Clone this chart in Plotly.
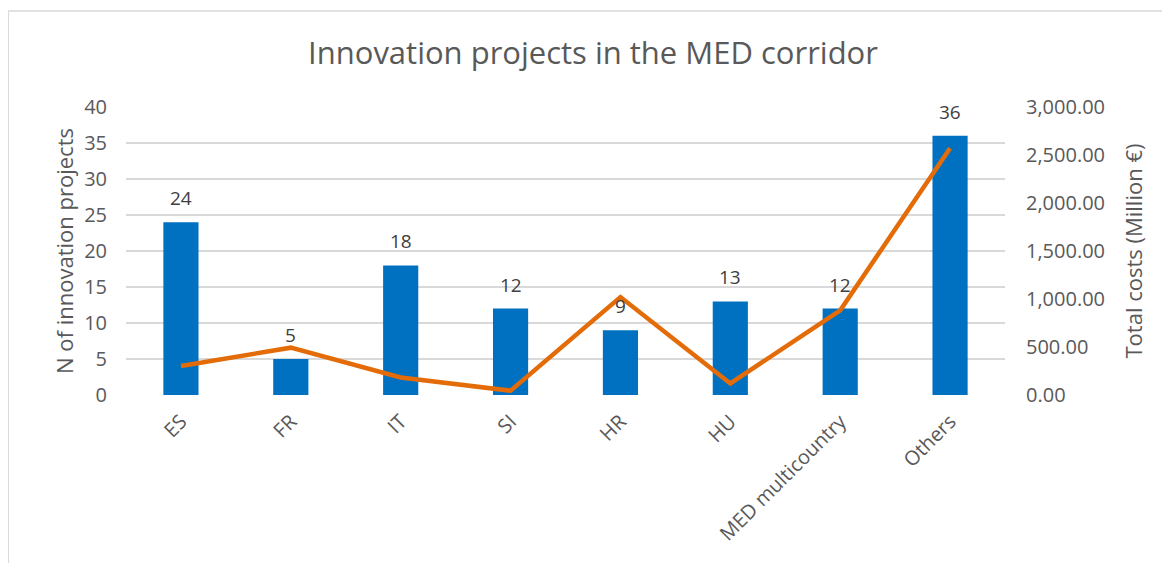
import plotly.graph_objects as go

categories = ["ES", "FR", "IT", "SI", "HR", "HU", "MED multicountry", "Others"]
n_projects = [24, 5, 18, 12, 9, 13, 12, 36]
total_costs = [302, 493, 182, 45, 1020, 120, 882, 2570]
left_ticks = [0, 5, 10, 15, 20, 25, 30, 35, 40]
right_ticks = [0, 500, 1000, 1500, 2000, 2500, 3000]
right_tick_labels = ["0.00", "500.00", "1,000.00", "1,500.00", "2,000.00", "2,500.00", "3,000.00"]

FONT = "Open Sans, sans-serif"
GREY = "#595959"

fig = go.Figure()
fig.add_trace(go.Bar(
    x=categories, y=n_projects, marker_color="#0070C0", marker_line_width=0,
    name="N of innovation projects", yaxis="y",
))
fig.add_trace(go.Scatter(
    x=categories, y=total_costs, mode="lines",
    line=dict(color="#E36C09", width=4.5), name="Total costs", yaxis="y2",
))

annotations = [
    dict(x=c, y=v, xref="x", yref="y", text=str(v), showarrow=False,
         yanchor="middle", yshift=24, font=dict(size=19, color="#404040", family=FONT))
    for c, v in zip(categories, n_projects)
]

fig.update_layout(
    width=1170, height=563,
    margin=dict(l=118, r=173, t=99, b=176),
    paper_bgcolor="white", plot_bgcolor="white",
    showlegend=False, bargap=0.68,
    title=dict(text="Innovation projects in the MED corridor", x=0.5, xref="container",
               y=1 - 45 / 563, yref="container", xanchor="center", yanchor="middle",
               font=dict(size=31, color=GREY, family=FONT)),
    xaxis=dict(tickangle=-45, tickfont=dict(size=20, color=GREY, family=FONT),
               showgrid=False, showline=False, ticks="", ticklabelstandoff=10),
    yaxis=dict(range=[0, 40], tickvals=left_ticks, showgrid=True, gridcolor="#D9D9D9",
               gridwidth=1.8, zeroline=False, tickfont=dict(size=20, color=GREY, family=FONT),
               title=dict(text="N of innovation projects", font=dict(size=22, color=GREY, family=FONT),
                          standoff=4), ticklabelstandoff=18),
    yaxis2=dict(range=[0, 3000], tickvals=right_ticks, ticktext=right_tick_labels,
                overlaying="y", side="right", showgrid=False, zeroline=False,
                tickfont=dict(size=20, color=GREY, family=FONT),
                title=dict(text="Total costs (Million €)", font=dict(size=22, color=GREY, family=FONT),
                           standoff=22), ticklabelstandoff=20),
    annotations=annotations,
    shapes=[dict(type="rect", xref="paper", yref="paper", x0=-0.134, x1=1.19, y0=-0.62, y1=1.333,
                 line=dict(color="#D9D9D9", width=1.5), layer="below")],
)

fig.write_html("out.html")
